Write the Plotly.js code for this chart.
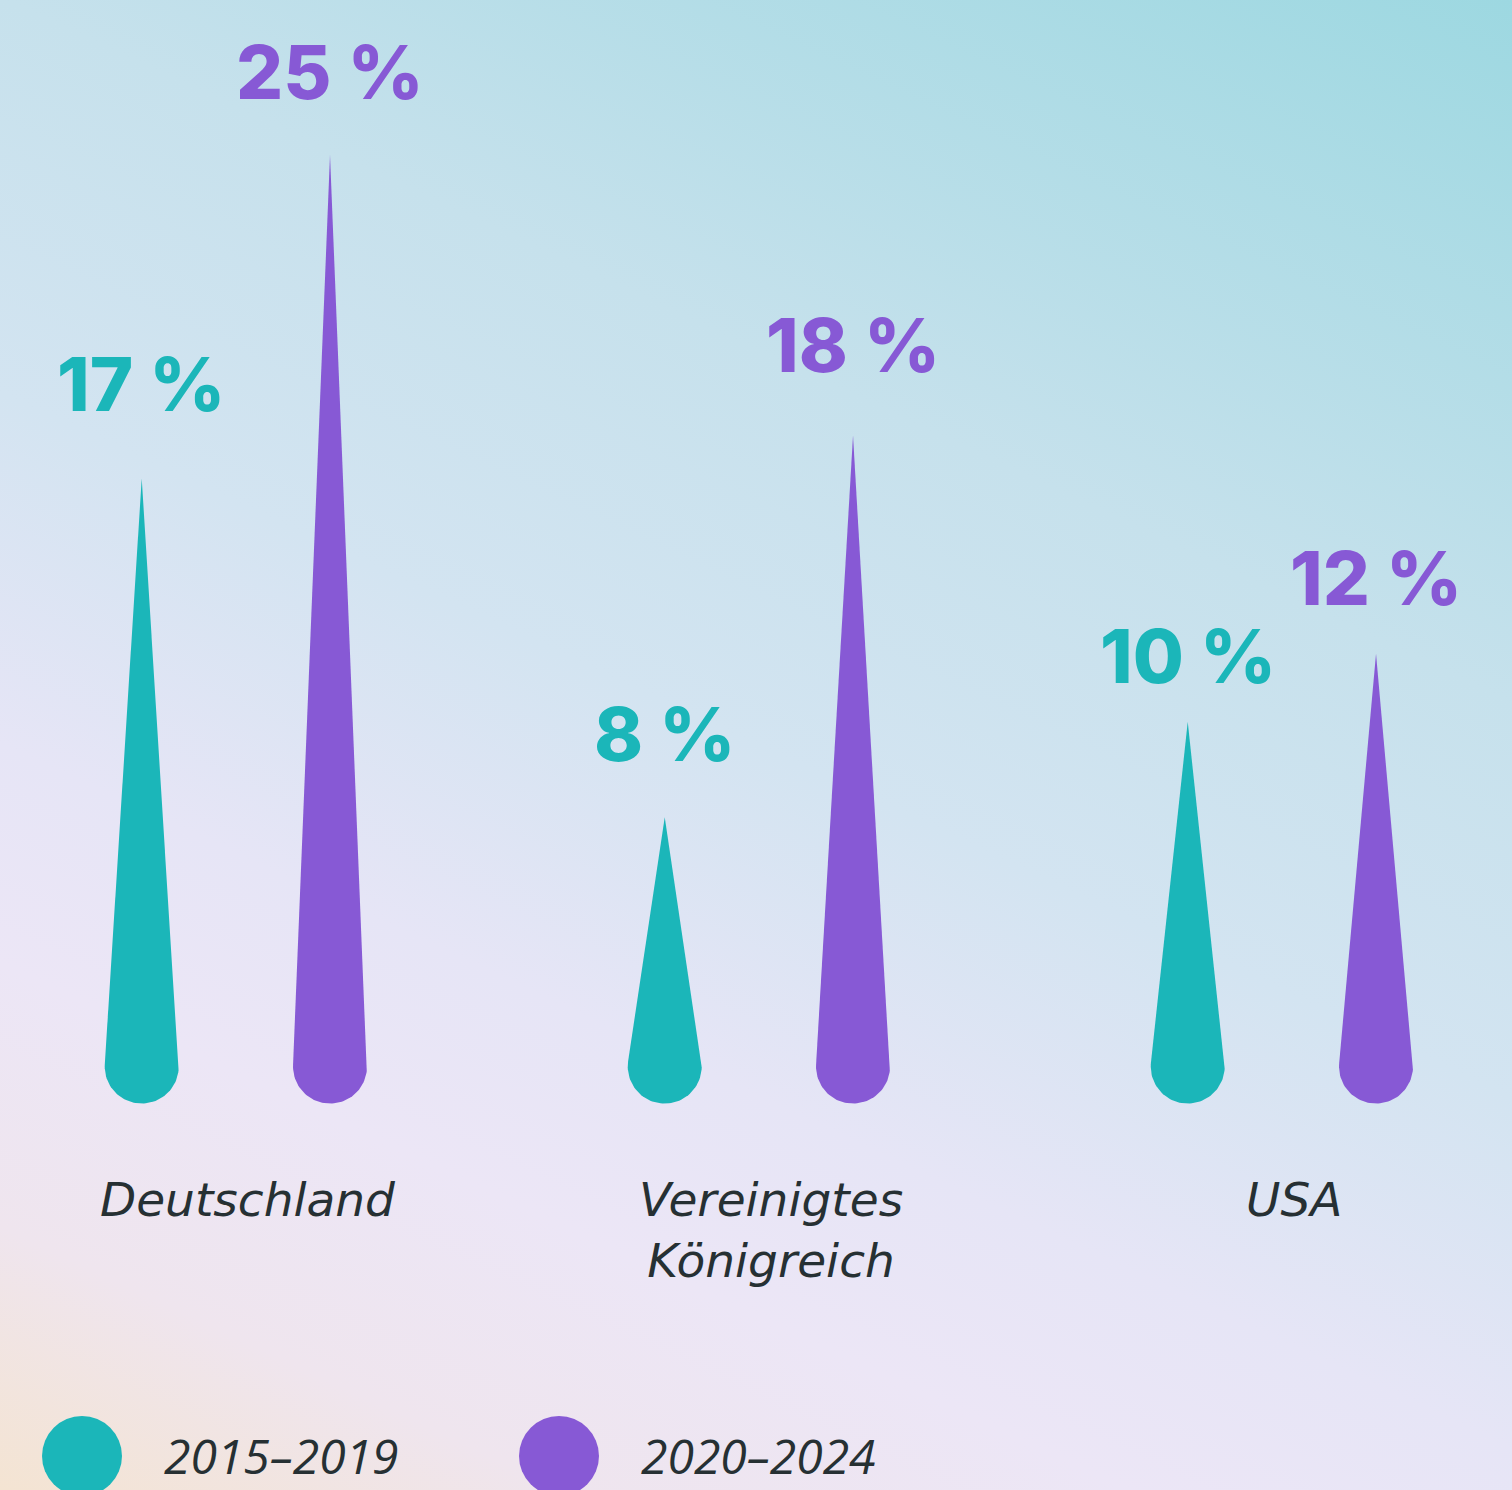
<!DOCTYPE html>
<html>
<head>
<meta charset="utf-8">
<script src="https://cdn.plot.ly/plotly-3.0.1.min.js"></script>
<style>
  html, body { margin: 0; padding: 0; }
  body {
    width: 1512px; height: 1490px; overflow: hidden;
    background: linear-gradient(205deg, #9dd8e1 0%, #c6e1ec 32%, #d3e4f1 50%, #e6e5f6 66%, #ece6f6 76%, #efe5ee 88%, #f4e4d2 100%);
  }
  #chart { width: 1512px; height: 1490px; }
</style>
</head>
<body>
<div id="chart"></div>
<script>
// ---- data ----
const categories = ["Deutschland", "Vereinigtes<br>Königreich", "USA"];
const periods = ["2015–2019", "2020–2024"];
const values2015 = [16.7, 8.0, 10.45];
const values2020 = [25.0, 17.8, 12.2];

// ---- style ----
const colors = ["#1bb6b9", "#8759d5"];
const textColor = "#263033";
const W = 1512, H = 1490;
const xRange = [-0.4510, 2.4400];     // category index axis
const yRange = [-9.27, 28.98];        // percent axis
const pxPerX = W / (xRange[1] - xRange[0]);
const pxPerY = H / (yRange[1] - yRange[0]);
const offset = 0.18;                  // half distance between the two drops of a group
const baseCenter = 1.6;               // y of the round base's centre (percent units)
const radiusPx = 37;

function dropPath(cx, v) {
  const rx = radiusPx / pxPerX, ry = radiusPx / pxPerY;
  const dPx = (v - baseCenter) * pxPerY;
  const phi = Math.acos(Math.min(1, radiusPx / dPx));
  const xs = [cx], ys = [v];
  const n = 60;
  for (let i = 0; i <= n; i++) {
    const th = phi + (2 * Math.PI - 2 * phi) * i / n;
    xs.push(cx + rx * Math.sin(th));
    ys.push(baseCenter + ry * Math.cos(th));
  }
  xs.push(cx); ys.push(v);
  return {xs, ys};
}

const traces = [];
const annotations = [];
const series = [values2015, values2020];
series.forEach((vals, s) => {
  vals.forEach((v, i) => {
    const cx = i + (s === 0 ? -offset : offset);
    const p = dropPath(cx, v);
    traces.push({
      type: "scatter", mode: "lines", x: p.xs, y: p.ys,
      fill: "toself", fillcolor: colors[s],
      line: {width: 0, color: colors[s]},
      hoverinfo: "skip", showlegend: false, name: periods[s]
    });
    annotations.push({
      x: cx, y: Math.round(v), xref: "x", yref: "y",
      text: Math.round(v) + " %", showarrow: false,
      xanchor: "center", yanchor: "bottom", yshift: 36,
      font: {family: "Inter, 'Open Sans', sans-serif", size: 74, weight: 800, color: colors[s]}
    });
  });
});

categories.forEach((c, i) => {
  annotations.push({
    x: i, y: 1 - 1170 / H, xref: "x", yref: "paper",
    text: c, showarrow: false, xanchor: "center", yanchor: "top", xshift: 12,
    align: "center",
    font: {family: "'DejaVu Sans', sans-serif", size: 47, style: "italic", color: textColor}
  });
});

const shapes = [];
const legendX = [82, 559];
periods.forEach((p, s) => {
  shapes.push({
    type: "circle", xref: "paper", yref: "paper",
    x0: (legendX[s] - 40) / W, x1: (legendX[s] + 40) / W,
    y0: 1 - 1496 / H, y1: 1 - 1416 / H,
    fillcolor: colors[s], line: {width: 0}
  });
  annotations.push({
    x: (legendX[s] + 80) / W, y: 0, xref: "paper", yref: "paper",
    text: p, showarrow: false, xanchor: "left", yanchor: "bottom",
    font: {family: "'Open Sans', sans-serif", size: 48, style: "italic", color: textColor}
  });
});

const layout = {
  width: W, height: H,
  margin: {l: 0, r: 0, t: 0, b: 0, pad: 0},
  paper_bgcolor: "rgba(0,0,0,0)", plot_bgcolor: "rgba(0,0,0,0)",
  xaxis: {range: xRange, visible: false, fixedrange: true},
  yaxis: {range: yRange, visible: false, fixedrange: true},
  showlegend: false,
  annotations, shapes
};

Plotly.newPlot("chart", traces, layout, {displayModeBar: false, staticPlot: true});
</script>
</body>
</html>
